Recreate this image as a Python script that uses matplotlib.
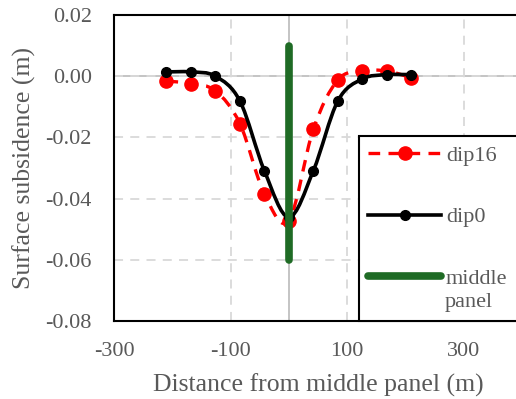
import matplotlib
matplotlib.use("Agg")
import matplotlib.pyplot as plt
from matplotlib.path import Path
from matplotlib.patches import PathPatch, Rectangle
from matplotlib.lines import Line2D
import numpy as np

plt.rcParams["font.family"] = ["Liberation Serif", "DejaVu Serif"]
plt.rcParams["axes.unicode_minus"] = False

# distance from middle panel (m)
dist = [-210, -168, -126, -84, -42, 0, 42, 84, 126, 168, 210]
# surface subsidence (m)
dip16 = [-0.0016, -0.0024, -0.0048, -0.0155, -0.0385, -0.0472,
         -0.0173, -0.0012, 0.0017, 0.0017, -0.0005]
dip0 = [0.0014, 0.0014, 0.0000, -0.0081, -0.0309, -0.0461,
        -0.0309, -0.0081, -0.0009, 0.0005, 0.0005]
# middle panel marker line
panel_x = [0, 0]
panel_y = [0.01, -0.06]

xticks = [-300, -100, 100, 300]
yticks = [-0.08, -0.06, -0.04, -0.02, 0.00, 0.02]

GREY = "#595959"
W, H = 516, 399


def smooth_path(xs, ys):
    # Excel-style smoothed line: Catmull-Rom segments as cubic Beziers
    p = np.column_stack([xs, ys]).astype(float)
    ext = np.vstack([p[0], p, p[-1]])
    verts = [p[0]]
    codes = [Path.MOVETO]
    for i in range(1, len(ext) - 2):
        p0, p1, p2, p3 = ext[i - 1], ext[i], ext[i + 1], ext[i + 2]
        verts += [p1 + (p2 - p0) / 6, p2 - (p3 - p1) / 6, p2]
        codes += [Path.CURVE4] * 3
    return Path(verts, codes)


fig = plt.figure(figsize=(W / 100, H / 100), dpi=100)
ax = fig.add_axes([114 / W, 1 - 321 / H, (522 - 114) / W, (321 - 15) / H])

ax.set_xlim(-300, 400)
ax.set_ylim(-0.08, 0.02)
ax.set_xticks(xticks)
ax.set_yticks(yticks)
ax.set_yticklabels([f"{v:.2f}" for v in yticks])
ax.grid(True, color="#d9d9d9", linestyle=(0, (5, 4)), linewidth=1.3, zorder=0)
ax.axhline(0, color="#bfbfbf", linewidth=1.3, zorder=1)
ax.axvline(0, color="#bfbfbf", linewidth=1.3, zorder=1)
ax.tick_params(length=0, labelsize=16, labelcolor=GREY)
ax.tick_params(axis="x", pad=15)
ax.tick_params(axis="y", pad=16)
for s in ax.spines.values():
    s.set_linewidth(1.5)
    s.set_color("black")

# dip16
ax.add_patch(PathPatch(smooth_path(dist, dip16), fill=False, edgecolor="red",
                       linewidth=2.4, linestyle=(0, (3.5, 2.5)), zorder=3))
ax.plot(dist, dip16, "o", color="red", markersize=9.5, zorder=3)
# dip0
ax.add_patch(PathPatch(smooth_path(dist, dip0), fill=False, edgecolor="black",
                       linewidth=2.6, zorder=4))
ax.plot(dist, dip0, "o", color="black", markersize=7, zorder=4)
# middle panel
ax.plot(panel_x, panel_y, color="#1f6b25", linewidth=5.5,
        solid_capstyle="round", zorder=5)

ax.set_xlabel("Distance from middle panel (m)", fontsize=18.5, color=GREY,
              labelpad=9)
ax.set_ylabel("Surface subsidence (m)", fontsize=18.5, color=GREY, labelpad=7)

handles = [
    Line2D([], [], color="red", linestyle=(0, (3.5, 2.5)), linewidth=2.4,
           marker="o", markersize=9.5),
    Line2D([], [], color="black", linewidth=2.6, marker="o", markersize=7),
    Line2D([], [], color="#1f6b25", linewidth=5.5, solid_capstyle="round"),
]
fig.patches.append(Rectangle((359 / W, 1 - 321 / H), 0.5, (321 - 136) / H,
                             transform=fig.transFigure, facecolor="white",
                             edgecolor="black", linewidth=1.5, zorder=10))
leg = fig.legend(handles, ["dip16", "dip0", "middle"], loc="upper left",
                 bbox_to_anchor=(357 / W, 1 - 134 / H), frameon=False,
                 fontsize=16, labelcolor=GREY, handlelength=3.3,
                 handletextpad=0.2, labelspacing=1.85, borderpad=0)
leg.set_zorder(11)
fig.text(445 / W, 1 - 303 / H, "panel", fontsize=16, color=GREY,
         va="center", ha="left", zorder=11)

fig.savefig("out.png", dpi=100)
